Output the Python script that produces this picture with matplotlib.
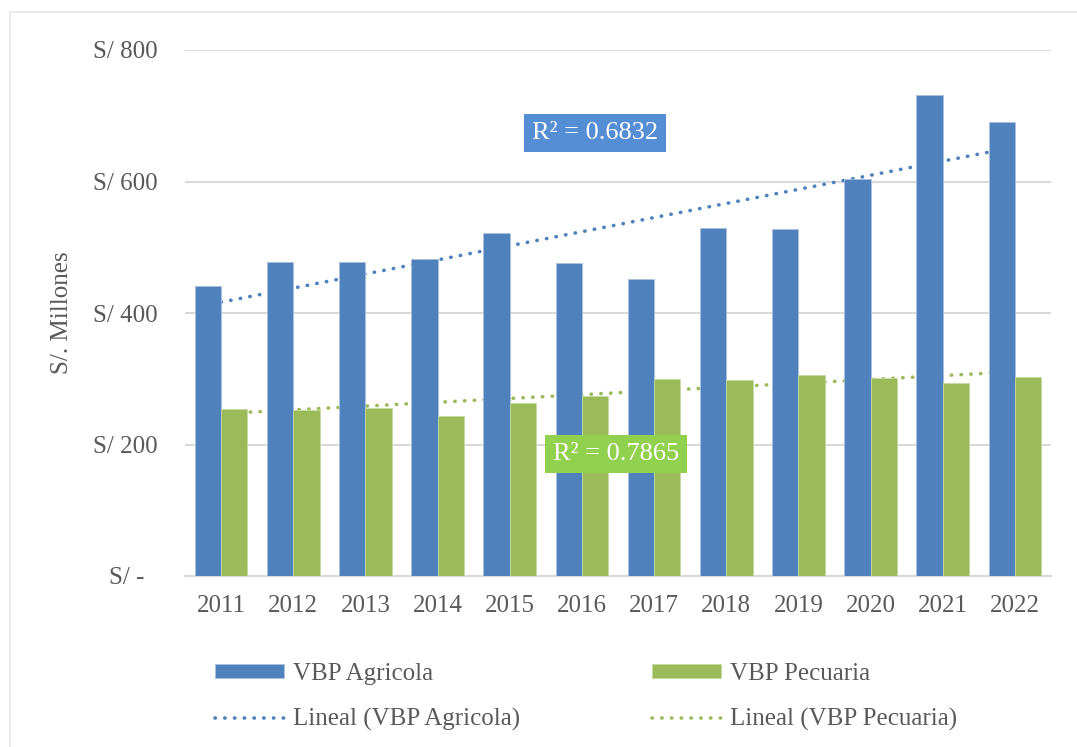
import matplotlib.pyplot as plt
import numpy as np
from matplotlib.patches import Rectangle

# data (S/ millones)
years = ['2011', '2012', '2013', '2014', '2015', '2016',
         '2017', '2018', '2019', '2020', '2021', '2022']
vbp_agricola = [441.5, 478, 478, 482.5, 522, 475.5, 451, 529.5, 528.5, 604.5, 731, 691]
vbp_pecuaria = [254.5, 253, 256, 244, 262.5, 274, 299.5, 298, 305, 301, 294, 303]
yticks = [0, 200, 400, 600, 800]
ytick_labels = ['S/ -  ', 'S/ 200', 'S/ 400', 'S/ 600', 'S/ 800']
r2_agricola = 'R² = 0.6832'
r2_pecuaria = 'R² = 0.7865'

BLUE = '#4F81BD'
GREEN = '#9BBB59'
TEXT = '#595959'

plt.rcParams['font.family'] = ['Liberation Serif', 'DejaVu Serif']

fig = plt.figure(figsize=(10.77, 7.47), dpi=100)
ax = fig.add_axes([185/1077, 171/747, 866/1077, 526/747])

# light outer frame of the chart area
fig.patches.append(Rectangle((10/1077, -0.1), 1.2, (747-12)/747 + 0.1,
                             transform=fig.transFigure, fill=False,
                             edgecolor='#E6E6E6', linewidth=1.2, zorder=0))

x = np.arange(len(years))
w = 0.365
ax.bar(x - w/2, vbp_agricola, width=w, color=BLUE, edgecolor='#A9C0DE',
       linewidth=0.6, label='VBP Agricola', zorder=3)
ax.bar(x + w/2, vbp_pecuaria, width=w, color=GREEN, edgecolor='#C7D9A2',
       linewidth=0.6, label='VBP Pecuaria', zorder=3)

# linear trend lines (as Excel "Lineal")
dots = (0, (0.1, 2.6))
ka, ba = np.polyfit(x, vbp_agricola, 1)
kp, bp = np.polyfit(x, vbp_pecuaria, 1)
ax.plot(x, ka*x + ba, color=BLUE, linestyle=dots, linewidth=2.6,
        dash_capstyle='round', label='Lineal (VBP Agricola)', zorder=2)
ax.plot(x, kp*x + bp, color=GREEN, linestyle=dots, linewidth=2.6,
        dash_capstyle='round', label='Lineal (VBP Pecuaria)', zorder=2)

ax.text(5.18, 674, r2_agricola, ha='center', va='center', color='white',
        fontsize=19, zorder=5,
        bbox=dict(boxstyle='square,pad=0.3', facecolor='#558ED5', edgecolor='none'))
ax.text(5.47, 186, r2_pecuaria, ha='center', va='center', color='white',
        fontsize=19, zorder=5,
        bbox=dict(boxstyle='square,pad=0.3', facecolor='#92D050', edgecolor='none'))

ax.set_xlim(-0.5, len(years) - 0.5)
ax.set_ylim(0, 800)
ax.set_xticks(x)
ax.set_xticklabels(years)
ax.set_yticks(yticks)
ax.set_yticklabels(ytick_labels)
ax.tick_params(length=0, labelsize=18, labelcolor=TEXT)
ax.tick_params(axis='y', pad=20)
ax.tick_params(axis='x', pad=14)
ax.set_ylabel('S/. Millones', fontsize=18, color=TEXT, labelpad=14)

ax.grid(axis='y', color='#D9D9D9', linewidth=1.5, zorder=0)
ax.set_axisbelow(True)
for side in ['top', 'right', 'left']:
    ax.spines[side].set_visible(False)
ax.spines['bottom'].set_color('#D9D9D9')
ax.spines['bottom'].set_linewidth(1.5)

h, l = ax.get_legend_handles_labels()
order = [2, 0, 3, 1]
leg = fig.legend([h[i] for i in order], [l[i] for i in order],
                 ncol=2, loc='center', bbox_to_anchor=(586/1077, 50/747),
                 frameon=False, fontsize=18, handlelength=2.75, handleheight=0.5,
                 handletextpad=0.35, columnspacing=5.3, labelspacing=0.95)
for t in leg.get_texts():
    t.set_color(TEXT)

fig.savefig('out.png', dpi=100)
